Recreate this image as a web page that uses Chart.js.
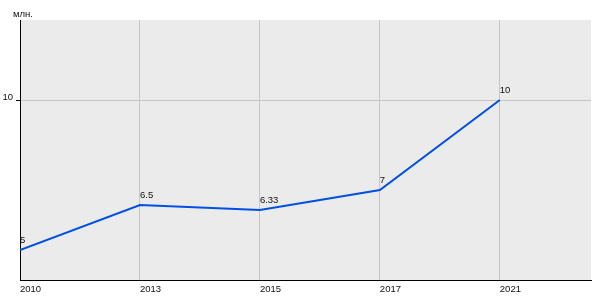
<!DOCTYPE html>
<html>
<head>
<meta charset="utf-8">
<script src="https://cdn.jsdelivr.net/npm/chart.js@4"></script>
<style>
  html, body { margin: 0; padding: 0; background: #fff; }
  #wrap { width: 600px; height: 300px; }
</style>
</head>
<body>
<div id="wrap"><canvas id="lineChart"></canvas></div>
<script>
// chart data
var years = ['2010', '2013', '2015', '2017', '2021'];
var values = [5, 6.5, 6.33, 7, 10];
var valueLabels = ['5', '6.5', '6.33', '7', '10'];
var yTicks = [10];
var unitLabel = 'млн.';

var FONT = '"Liberation Sans", Arial, sans-serif';
var TEXT = '#111';

// grey plot background + unit text
var plotBackground = {
    id: 'plotBackground',
    beforeDraw: function (chart) {
        var a = chart.chartArea;
        var ctx = chart.ctx;
        ctx.save();
        ctx.fillStyle = '#ebebeb';
        ctx.fillRect(a.left, a.top, a.right - a.left, a.bottom - a.top);
        ctx.fillStyle = TEXT;
        ctx.font = '9.5px ' + FONT;
        ctx.textAlign = 'left';
        ctx.textBaseline = 'alphabetic';
        ctx.fillText(unitLabel, a.left - 7, a.top - 3);
        ctx.restore();
    }
};

// value labels next to each point
var pointLabels = {
    id: 'pointLabels',
    afterDatasetsDraw: function (chart) {
        var ctx = chart.ctx;
        var meta = chart.getDatasetMeta(0);
        ctx.save();
        ctx.fillStyle = TEXT;
        ctx.font = '9.5px ' + FONT;
        ctx.textAlign = 'left';
        ctx.textBaseline = 'alphabetic';
        meta.data.forEach(function (pt, i) {
            ctx.fillText(valueLabels[i], pt.x, pt.y - 7);
        });
        ctx.restore();
    }
};

var ctx = document.getElementById('lineChart').getContext('2d');
var myLineChart = new Chart(ctx, {
    type: 'line',
    data: {
        datasets: [{
            data: values.map(function (v, i) { return { x: i, y: v }; }),
            borderColor: '#0050e6',
            borderWidth: 2,
            pointRadius: 0,
            tension: 0,
            fill: false
        }]
    },
    options: {
        responsive: true,
        maintainAspectRatio: false,
        animation: false,
        layout: { padding: { top: 20, right: 9, left: 0, bottom: 0 } },
        plugins: {
            legend: { display: false },
            tooltip: { enabled: false }
        },
        scales: {
            x: {
                type: 'linear',
                min: 0,
                max: 4.76,
                afterBuildTicks: function (scale) {
                    scale.ticks = years.map(function (y, i) { return { value: i }; });
                },
                afterFit: function (scale) { scale.height = 20; },
                grid: { color: '#c6c6c6', lineWidth: 1, drawTicks: false },
                border: { color: '#000', width: 1 },
                ticks: {
                    align: 'start',
                    padding: 4,
                    maxRotation: 0,
                    autoSkip: false,
                    color: TEXT,
                    font: { family: FONT, size: 9.5 },
                    callback: function (value) { return years[value]; }
                }
            },
            y: {
                min: 4,
                max: 12.667,
                afterBuildTicks: function (scale) {
                    scale.ticks = yTicks.map(function (v) { return { value: v }; });
                },
                afterFit: function (scale) { scale.width = 20; },
                grid: { color: '#c6c6c6', lineWidth: 1, tickLength: 4, tickColor: '#000' },
                border: { color: '#000', width: 1 },
                ticks: {
                    padding: 3,
                    labelOffset: -3,
                    color: TEXT,
                    font: { family: FONT, size: 9.5 }
                }
            }
        }
    },
    plugins: [plotBackground, pointLabels]
});
</script>
</body>
</html>
